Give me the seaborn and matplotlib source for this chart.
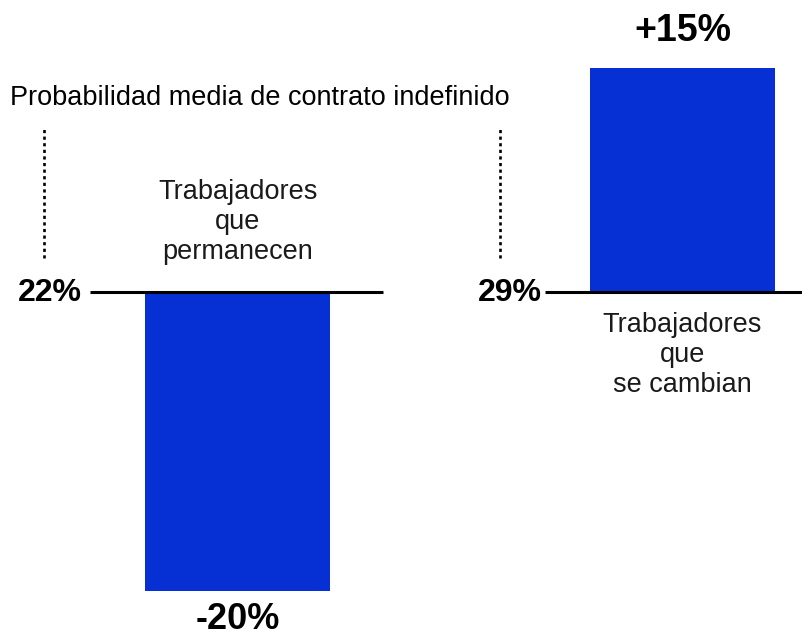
import matplotlib
matplotlib.use("Agg")
import matplotlib.pyplot as plt
import seaborn as sns
import pandas as pd

# Data
groups = ["Trabajadores\nque\npermanecen", "Trabajadores\nque\nse cambian"]
baseline_pct = [22, 29]          # average probability of a permanent contract
change_pct = [-20, 15]           # relative change for each group
title = "Probabilidad media de contrato indefinido"

BLUE = "#0630d4"

sns.set_theme(style="white")
plt.rcParams["font.family"] = ["Liberation Sans", "DejaVu Sans"]

fig = plt.figure(figsize=(8.03, 6.37), dpi=100)
ax = fig.add_axes([0, 0, 1, 1])

df = pd.DataFrame({"grupo": groups, "cambio": change_pct})
sns.barplot(data=df, x="grupo", y="cambio", color=BLUE, saturation=1,
            width=0.416, errorbar=None, ax=ax, linewidth=0)

ax.set_xlim(-0.534, 1.271)
ax.set_ylim(-23.08, 19.53)
ax.axis("off")

# Baselines for each group
base_spans = [(-0.331, 0.327), (0.691, 1.30)]
for (x0, x1) in base_spans:
    ax.plot([x0, x1], [0, 0], color="black", lw=2.2, solid_capstyle="butt", zorder=3)

# Dotted guides above each baseline label
for xg in (-0.435, 0.590):
    ax.plot([xg, xg], [2.27, 10.97], color="black", lw=1.9,
            linestyle=(0, (1.2, 1.3)), zorder=3)

# Baseline value labels
for xr, b in zip((-0.349, 0.684), baseline_pct):
    ax.text(xr, -0.1, f"{b}%", ha="right", va="center",
            fontsize=23, fontweight="bold", color="black")

# Change labels
for i, v in enumerate(change_pct):
    if v < 0:
        ax.text(i, v - 1.9, f"{v:+d}%", ha="center", va="center",
                fontsize=26, fontweight="bold", color="black")
    else:
        ax.text(i, v + 2.46, f"{v:+d}%", ha="center", va="center",
                fontsize=27, fontweight="bold", color="black")

# Group names on the opposite side of each bar
ax.text(0, 4.68, groups[0], ha="center", va="center", fontsize=19.5,
        color="#1a1a1a", linespacing=1.22)
ax.text(1, -4.21, groups[1], ha="center", va="center", fontsize=19.5,
        color="#1a1a1a", linespacing=1.22)

# Title
ax.text(-0.511, 12.98, title, ha="left", va="center", fontsize=19.5, color="black")

fig.savefig("out.png", dpi=100)
